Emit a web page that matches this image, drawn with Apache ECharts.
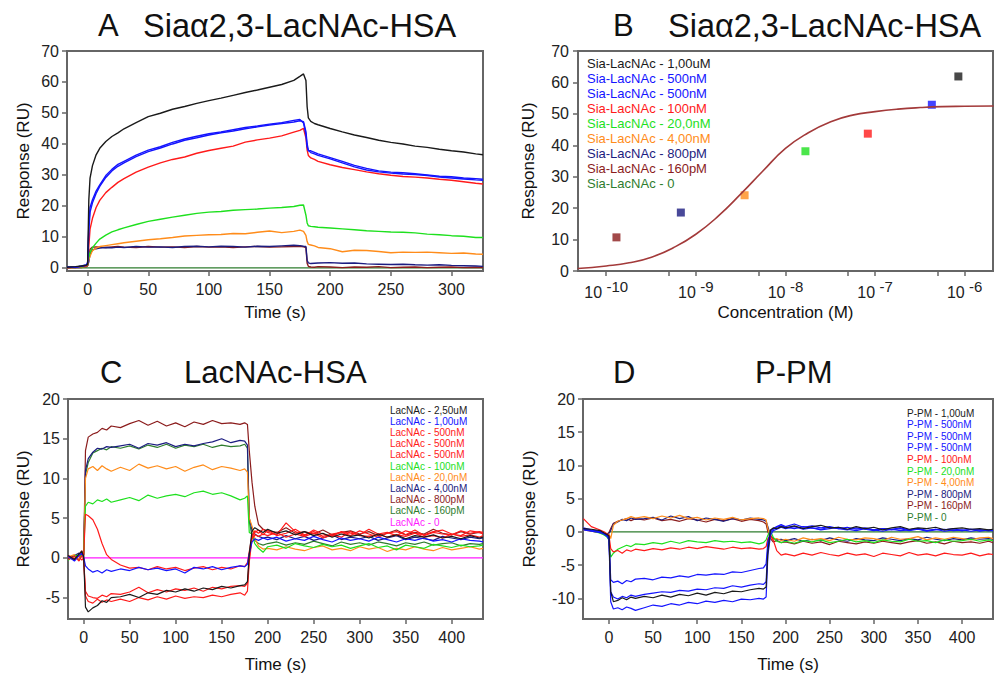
<!DOCTYPE html>
<html>
<head>
<meta charset="utf-8">
<script src="https://cdn.jsdelivr.net/npm/echarts@6/dist/echarts.min.js"></script>
<style>
html, body { margin: 0; padding: 0; background: #fff; }
#main { width: 998px; height: 674px; }
</style>
</head>
<body>
<div id="main"></div>
<script>
var chartDom = document.getElementById('main');
var myChart = echarts.init(chartDom, null, { renderer: 'svg' });

var FONT = '"Liberation Sans", Arial, sans-serif';

// colours used across panels
var cBlack = '#1a1a1a', cBlue = '#1414ff', cRed = '#ff1a1a', cGreen = '#1ee01e',
    cOrange = '#ff8c1a', cNavy = '#1c1c80', cDarkRed = '#8b1c1c', cDarkGreen = '#2e7d2e',
    cMagenta = '#ff1aff';

// ---------- panel A : Sia-LacNAc sensorgrams ----------
var tA = [-17,-10,-5,-1,0,1,2,4,7,10,15,20,25,30,40,50,60,70,80,90,100,110,120,130,140,150,160,170,175,178,180,181,182,184,187,190,200,210,220,230,240,250,260,270,280,290,300,310,320,326];
var blackA = [0.2,0.4,0.6,0.9,1.2,22,29,33,36.5,38.6,40.8,42.4,43.6,44.9,46.9,48.8,49.9,51.2,52.1,53.1,54.0,54.8,55.7,56.6,57.4,58.3,59.2,60.5,61.8,62.6,60.5,52,48.4,47.3,46.6,46.2,45.0,43.9,42.9,42.1,41.2,40.5,40.0,39.3,38.9,38.3,37.8,37.4,36.8,36.5];
var blueA1 = [0.1,0.3,0.5,0.8,1.5,12,18,21,24,26.3,29.2,31.3,32.8,33.9,35.9,37.5,38.7,40.0,41.2,42.0,42.9,43.6,44.2,44.9,45.5,46.1,46.6,47.1,47.5,47.2,44,40,38,37.2,36.8,36.3,35.2,33.9,32.6,31.6,31.0,30.6,30.3,30.1,29.8,29.3,29.0,28.7,28.4,28.3];
var blueA2 = [0.3,0.2,0.6,1.0,1.8,14,19.5,22,24.8,26.8,29.8,31.8,33.4,34.4,36.4,38.0,39.1,40.5,41.6,42.5,43.3,43.9,44.6,45.3,45.8,46.4,46.9,47.6,47.9,46.8,43,39,37.8,37.8,37.3,36.8,35.6,34.4,33.1,32.1,31.3,30.9,30.7,30.4,30.0,29.6,29.4,29.0,28.8,28.6];
var redA = [0,0.2,0.4,0.6,1,7,12.5,16,19.5,21.8,24.3,26.0,27.6,28.8,30.9,32.5,33.9,35.0,35.8,37.0,37.9,38.6,39.3,40.6,41.3,41.9,42.6,43.8,44.4,45.0,42,38,36.3,35.5,35.0,34.4,33.3,32.4,31.7,31.0,30.4,29.9,29.5,29.3,29.0,28.6,28.3,27.8,27.3,27.1];
var greenA = [0.1,0.2,0.3,0.6,1,3.5,5,6.5,8,9.3,10.6,11.6,12.3,12.9,14.0,15.0,15.7,16.4,17.0,17.6,18.0,18.2,18.6,18.8,19.0,19.3,19.5,19.8,20.2,20.3,17,14.5,13.6,13.4,13.3,13.1,12.9,12.6,12.3,12.0,11.8,11.6,11.5,11.3,10.9,10.7,10.4,10.2,9.8,9.8];
var orangeA = [0,0.1,0.3,0.5,0.8,2.5,3.8,5.6,6.4,6.9,7.2,7.5,7.8,8.1,8.6,9.1,9.4,9.8,10.3,10.5,10.7,10.8,11.1,11.0,11.5,11.9,11.4,11.8,12.2,11.8,10.5,8.5,7.6,7.4,7.1,6.6,6.2,5.2,5.7,5.6,5.3,4.9,5.1,5.0,5.1,4.9,4.7,4.8,4.5,4.4];
var navyA = [0.3,0.1,0.6,0.4,0.8,2,4.5,5.8,6.2,6.4,6.6,6.5,6.7,6.6,6.9,6.7,6.8,6.6,6.9,7.0,6.8,7.0,6.9,6.7,7.0,6.9,7.1,7.3,7.2,7.0,6.9,2.5,1.6,1.4,1.5,1.6,1.7,1.5,1.6,1.3,1.2,1.1,1.2,1.0,0.9,1.0,0.8,0.7,0.6,0.5];
var darkRedA = [0,0.2,0.1,0.5,0.7,3,6,6.7,6.8,6.7,6.6,6.8,6.9,6.7,6.6,6.9,6.7,6.8,6.6,6.9,6.7,6.8,6.6,6.8,6.9,6.7,6.8,6.9,7.0,6.8,6.6,1.5,0.5,0.3,0.2,0.4,0.3,0.1,0.3,0.2,0.4,0.1,0.2,0.3,0.1,0.2,0.3,0.1,0.2,0.1];
var tZeroA = [-17, 326];
var zeroA = [0, 0];
var namesA = ['Sia-LacNAc - 1,00uM','Sia-LacNAc - 500nM','Sia-LacNAc - 500nM','Sia-LacNAc - 100nM','Sia-LacNAc - 20,0nM','Sia-LacNAc - 4,00nM','Sia-LacNAc - 800pM','Sia-LacNAc - 160pM','Sia-LacNAc - 0'];
var colorsA = [cBlack, cBlue, cBlue, cRed, cGreen, cOrange, cNavy, cDarkRed, cDarkGreen];
var curvesA = [blackA, blueA1, blueA2, redA, greenA, orangeA, navyA, darkRedA];
var ticksA_x = [0, 50, 100, 150, 200, 250, 300];
var ticksA_y = [0, 10, 20, 30, 40, 50, 60, 70];

// ---------- panel B : dose response ----------
var concB = [1.3e-10, 6.8e-10, 3.5e-9, 1.67e-8, 8.3e-8, 4.3e-7, 8.5e-7];
var respB = [10.7, 18.6, 24.1, 38.1, 43.7, 52.9, 61.9];
var colorsB = [cDarkRed, cNavy, cOrange, cGreen, cRed, cBlue, cBlack];
var fitConc = [4.8e-11, 1e-10, 1.8e-10, 3.2e-10, 5.6e-10, 1e-9, 1.8e-9, 3.2e-9, 5.6e-9, 1e-8, 1.8e-8, 3.2e-8, 5.6e-8, 1e-7, 1.8e-7, 3.2e-7, 5.6e-7, 1e-6, 2.1e-6];
var fitResp = [0.8, 1.6, 2.6, 4.4, 7.4, 11.7, 17.6, 24.6, 31.8, 39.0, 44.0, 47.5, 49.6, 50.7, 51.5, 52.0, 52.3, 52.4, 52.5];
var labelsB_x = [1e-10, 1e-9, 1e-8, 1e-7, 1e-6];
var ticksB_x = [1e-10, 5e-10, 1e-9, 5e-9, 1e-8, 5e-8, 1e-7, 5e-7, 1e-6];
var ticksB_y = [0, 10, 20, 30, 40, 50, 60, 70];

// ---------- panel C : LacNAc-HSA ----------
var tC = [-17,-10,-5,-2,0,2,5,10,15,20,25,30,40,50,60,70,80,90,100,110,120,130,140,150,160,170,175,178,180,183,186,190,195,200,210,220,230,240,250,260,270,280,290,300,310,320,330,340,350,360,370,380,390,400,410,420,430,434];
var blackC = [0.3,-0.2,0.5,0.8,0.2, -6.2,-6.8,-6.3,-6.0,-5.4,-5.6,-5.0, -4.9,-4.6,-5.0,-4.4,-4.6,-4.1,-4.3,-3.9,-4.2,-3.8,-4.0,-3.6,-3.8,-3.5, -3.4,-3.0,0.5,3.4,3.8,3.5,3.2, 3.6,3.1,3.4,2.9,3.3,2.8,3.1,2.6,3.0,2.7,2.9,2.5,3.0,2.6,2.9,2.4,2.8,2.6,2.9,2.5,2.7,2.4,2.8,2.5, 2.6];
var blueC = [0.2,-0.4,0.3,0.6,0.1, -1.0,-1.4,-1.8,-1.6,-1.9,-1.5,-1.7, -1.4,-1.6,-1.2,-1.5,-1.3,-1.6,-1.4,-1.9,-1.2,-1.4,-1.1,-1.5,-1.2,-1.0, -1.1,-0.8,0.5,2.0,2.4,2.2,2.5, 2.3,2.6,2.1,2.4,2.2,2.7,2.3,2.0,2.5,2.2,2.4,2.1,2.6,2.3,2.0,2.4,2.2,2.5,2.1,2.3,2.0,2.4,2.2,2.1, 2.0];
var redC1 = [0.1,-0.3,0.4,0.7,0.3, 5.5,5.3,4.8,3.6,1.8,0.4,-0.2, -0.9,-1.3,-1.2,-1.5,-1.1,-1.4,-1.2,-1.6,-1.3,-1.1,-1.5,-1.2,-1.4,-1.0, -1.1,-0.6,0.8,2.8,3.4,3.1,3.6, 3.2,2.9,4.4,3.3,2.8,3.5,3.0,2.7,3.3,3.1,2.9,3.6,3.0,3.2,2.8,3.4,3.1,2.9,3.3,3.5,3.0,2.8,3.4,3.2, 3.0];
var redC2 = [-0.2,0.2,-0.4,0.3,-0.1, -4.2,-4.8,-5.0,-5.1,-4.7,-4.9,-4.5, -4.6,-4.3,-3.7,-4.4,-4.0,-4.3,-3.9,-4.1,-3.8,-4.2,-3.7,-3.9,-3.6,-3.5, -3.6,-3.2,0.0,2.6,3.2,3.5,2.9, 3.5,2.8,3.1,3.6,2.9,3.3,2.7,3.0,3.2,2.8,3.4,3.0,2.6,3.1,3.3,2.9,3.5,2.8,3.2,3.0,2.9,3.4,3.1,3.3, 3.2];
var redC3 = [0.3,-0.1,0.2,-0.3,0.0, -4.8,-5.5,-5.7,-5.2,-5.6,-5.3,-5.5, -5.2,-5.5,-5.0,-5.3,-4.9,-5.2,-4.8,-5.1,-4.9,-5.0,-4.7,-4.9,-4.6,-4.4, -4.7,-4.2,-0.5,2.4,2.9,2.7,3.0, 2.8,3.2,2.6,3.0,2.7,3.1,2.5,2.9,2.6,3.3,2.8,2.7,3.0,2.6,2.9,2.7,3.1,2.6,2.8,2.5,3.0,2.7,2.9,2.6, 2.8];
var greenC = [-0.3,0.2,0.4,0.1,0.5, 6.5,7.0,6.8,7.3,7.1,7.4,7.0, 7.3,7.6,7.2,7.9,7.5,7.8,8.0,7.7,8.2,8.4,8.0,8.2,7.8,7.3, 7.5,7.8,3.2,3.0,1.8,1.2,0.7, 1.4,1.6,1.2,1.8,1.5,1.3,1.7,1.4,1.6,1.2,1.5,1.8,1.3,1.5,1.0,1.6,1.4,1.2,1.7,1.5,1.3,1.6,1.4,1.5, 1.6];
var orangeC = [0.1,0.4,-0.2,0.3,0.2, 10.0,11.2,11.5,11.0,11.6,11.2,10.9, 11.4,11.0,11.8,11.3,11.6,11.2,11.5,10.9,11.4,11.7,11.1,11.5,11.3,11.0, 11.2,10.8,5.0,4.0,2.5,1.5,1.1, 1.2,1.0,1.4,1.1,0.9,1.3,1.5,1.0,1.2,0.9,1.4,1.1,1.3,0.8,1.2,1.0,1.4,1.1,0.9,1.3,1.0,1.2,1.4,1.1, 1.2];
var navyC = [-0.1,0.3,0.6,0.2,0.4, 11.0,12.5,13.3,13.8,13.7,14.0,13.9, 14.1,14.3,13.8,14.4,14.2,14.5,14.0,14.3,14.1,14.4,14.6,15.0,14.5,14.8, 14.7,14.2,5.0,3.5,3.0,2.7,2.5, 2.6,2.3,2.8,2.4,2.7,2.2,2.5,2.9,2.3,2.6,2.4,2.7,2.2,2.5,2.8,2.3,2.6,2.4,2.2,2.7,2.5,2.3,2.6,2.4, 2.5];
var darkRedC = [0.2,-0.2,0.4,0.9,0.3, 13.5,15.2,15.6,15.8,16.3,16.1,16.6, 16.4,16.9,17.3,16.7,17.2,16.6,17.0,16.5,17.1,16.8,17.3,16.9,17.0,16.8, 17.0,16.8,13.5,9.5,6.5,4.2,3.6, 3.4,3.2,3.8,3.1,3.3,3.0,3.5,2.9,3.2,3.4,3.0,3.3,2.8,3.1,3.5,2.9,3.2,3.0,3.6,3.1,2.9,3.3,3.0,3.2, 3.1];
var darkGreenC = [0.0,0.2,-0.3,0.4,0.1, 10.5,12.0,13.2,13.5,13.8,13.6,14.0, 13.8,14.1,13.7,14.2,13.9,14.3,13.8,14.2,14.0,14.3,13.9,14.2,14.0,14.1, 14.3,13.8,4.5,2.8,2.2,1.8,1.6, 1.8,2.0,1.6,1.9,1.7,2.1,1.8,1.5,2.0,1.7,1.9,1.6,2.0,1.8,1.5,1.9,1.7,2.0,1.6,1.8,1.9,1.5,1.8,1.7, 1.8];
var tZeroC = [0, 434];
var zeroC = [0, 0];
var namesC = ['LacNAc - 2,50uM','LacNAc - 1,00uM','LacNAc - 500nM','LacNAc - 500nM','LacNAc - 500nM','LacNAc - 100nM','LacNAc - 20,0nM','LacNAc - 4,00nM','LacNAc - 800pM','LacNAc - 160pM','LacNAc - 0'];
var colorsC = [cBlack, cBlue, cRed, cRed, cRed, cGreen, cOrange, cNavy, cDarkRed, cDarkGreen, cMagenta];
var curvesC = [blackC, blueC, redC1, redC2, redC3, greenC, orangeC, navyC, darkRedC, darkGreenC];
var ticksC_x = [0, 50, 100, 150, 200, 250, 300, 350, 400];
var ticksC_y = [-5, 0, 5, 10, 15, 20];

// ---------- panel D : P-PM ----------
var tD = [-29,-20,-10,-5,-2,0,2,5,10,15,20,25,30,40,50,60,70,80,90,100,110,120,130,140,150,160,170,175,178,180,183,186,190,195,200,210,220,230,240,250,260,270,280,290,300,310,320,330,340,350,360,370,380,390,400,410,420,430,435];
var blackD = [0.5,0.4,0.2,-0.2,-0.4,-0.6, -9.0,-10.5,-10.3,-9.9,-10.2,-9.8,-10.0, -9.7,-9.9,-9.5,-9.8,-9.4,-9.6,-9.2,-9.5,-9.1,-9.3,-8.9,-9.0,-8.7,-8.5, -8.6,-8.3,-3.0,0.3,0.6,0.5,0.8, 0.6,0.9,0.5,0.8,1.0,0.6,0.7,0.4,0.8,0.5,0.7,0.3,0.6,0.8,0.4,0.6,0.5,0.7,0.3,0.5,0.6,0.4,0.5,0.3, 0.4];
var blueD1 = [0.6,0.3,0.1,-0.3,-0.5,-0.8, -7.2,-7.6,-7.4,-7.8,-7.3,-7.5,-7.1, -7.0,-7.2,-6.8,-6.9,-6.6,-6.8,-6.4,-6.5,-6.3,-6.4,-6.0,-6.1,-5.8,-5.5, -5.4,-4.8,-1.5,0.2,0.5,0.8,1.1, 0.8,1.2,0.7,0.9,0.6,0.8,0.5,0.7,0.4,0.6,0.3,0.5,0.4,0.6,0.3,0.5,0.2,0.4,0.3,0.5,0.2,0.4,0.3,0.2, 0.3];
var blueD2 = [0.4,0.2,0.0,-0.4,-0.6,-0.9, -9.0,-9.8,-10.1,-9.7,-9.9,-9.5,-9.7, -9.4,-9.2,-9.0,-9.1,-8.8,-8.9,-8.6,-8.7,-8.4,-8.5,-8.1,-8.3,-8.0,-7.8, -7.9,-7.5,-2.0,0.0,0.4,0.7,0.9, 0.7,0.5,0.8,0.6,0.4,0.7,0.5,0.3,0.6,0.4,0.2,0.5,0.3,0.5,0.2,0.4,0.1,0.3,0.4,0.2,0.3,0.1,0.3,0.2, 0.2];
var blueD3 = [0.3,0.1,-0.1,-0.3,-0.7,-1.2, -10.5,-11.6,-11.4,-11.7,-11.3,-11.5,-11.8, -11.4,-11.0,-11.2,-10.8,-11.0,-10.6,-10.8,-10.4,-10.6,-10.3,-10.5,-10.1,-10.2,-10.0, -10.1,-9.8,-3.5,-0.5,0.2,0.4,0.7, 0.5,0.8,0.4,0.6,0.3,0.5,0.7,0.4,0.2,0.5,0.3,0.1,0.4,0.2,0.3,0.5,0.2,0.4,0.1,0.3,0.2,0.4,0.1,0.3, 0.2];
var redD = [2.0,0.8,0.3,0.0,-0.3,-0.5, -2.5,-3.0,-2.8,-3.2,-2.7,-2.9,-2.6, -2.8,-2.5,-2.7,-2.4,-2.6,-2.3,-2.5,-2.2,-2.4,-2.6,-2.3,-2.5,-2.4,-2.6, -2.5,-2.2,-1.0,-0.5,-1.2,-2.8,-3.5, -3.3,-3.6,-3.2,-3.5,-3.1,-3.4,-3.6,-3.2,-3.5,-3.3,-3.7,-3.2,-3.4,-3.6,-3.1,-3.5,-3.3,-3.6,-3.2,-3.4,-3.5,-3.2,-3.6,-3.3, -3.4];
var greenD = [0.4,0.2,-0.2,-0.5,-0.8,-1.2, -3.8,-3.2,-2.6,-2.3,-2.0,-2.2,-1.8, -1.9,-1.6,-1.8,-1.4,-1.7,-1.3,-1.5,-1.6,-1.3,-1.5,-1.4,-1.6,-1.5,-1.8, -1.6,-1.2,-0.5,0.2,-0.8,-1.4,-1.6, -1.4,-1.7,-1.3,-1.5,-1.2,-1.6,-1.4,-1.1,-1.5,-1.3,-1.6,-1.2,-1.4,-1.5,-1.1,-1.4,-1.3,-1.6,-1.2,-1.4,-1.3,-1.1,-1.4,-1.2, -1.3];
var orangeD = [0.3,0.1,-0.1,-0.3,-0.5,-0.3, -1.0,1.0,1.6,1.8,2.0,2.3,2.1, 2.3,2.0,2.4,2.1,2.5,2.0,2.2,1.8,2.1,1.9,2.2,1.8,2.0,2.1, 2.0,1.8,0.5,-0.8,-1.2,-1.0,-1.3, -1.1,-1.4,-0.9,-1.2,-1.0,-1.3,-0.8,-1.1,-1.2,-0.9,-1.0,-1.3,-0.8,-1.1,-1.0,-0.7,-1.2,-0.9,-1.1,-0.8,-1.0,-1.2,-0.9,-0.8, -1.0];
var navyD = [0.5,0.2,0.0,-0.2,-0.4,-0.2, 0.2,1.2,1.5,1.9,1.7,2.1,1.9, 2.0,2.2,1.8,2.4,2.0,2.3,1.7,2.1,1.9,1.6,2.0,1.8,2.1,1.9, 1.8,1.6,0.8,-0.5,-1.0,-1.2,-1.1, -1.3,-1.0,-1.4,-1.1,-1.3,-0.9,-1.2,-1.4,-1.0,-1.2,-1.3,-0.9,-1.1,-1.3,-1.0,-1.2,-0.8,-1.1,-1.3,-1.0,-1.2,-0.9,-1.1,-1.0, -1.1];
var darkRedD = [0.4,0.1,-0.1,-0.2,-0.3,-0.1, 0.5,1.3,1.6,1.8,2.0,1.7,2.0, 1.8,2.1,1.7,1.9,1.6,2.0,1.8,1.5,1.9,1.7,2.0,1.6,1.9,1.7, 1.5,1.2,0.0,-1.0,-1.5,-1.3,-1.6, -1.5,-1.8,-1.4,-1.7,-1.5,-1.9,-1.4,-1.6,-1.8,-1.5,-1.7,-1.4,-1.6,-1.8,-1.5,-1.3,-1.7,-1.5,-1.8,-1.4,-1.6,-1.5,-1.7,-1.4, -1.6];
var tZeroD = [0, 435];
var zeroD = [0, 0];
var namesD = ['P-PM - 1,00uM','P-PM - 500nM','P-PM - 500nM','P-PM - 500nM','P-PM - 100nM','P-PM - 20,0nM','P-PM - 4,00nM','P-PM - 800pM','P-PM - 160pM','P-PM - 0'];
var colorsD = [cBlack, cBlue, cBlue, cBlue, cRed, cGreen, cOrange, cNavy, cDarkRed, cDarkGreen];
var curvesD = [blackD, blueD1, blueD2, blueD3, redD, greenD, orangeD, navyD, darkRedD];
var ticksD_x = [0, 50, 100, 150, 200, 250, 300, 350, 400];
var ticksD_y = [-10, -5, 0, 5, 10, 15, 20];

// ---------- helpers ----------
function pairs(t, v) {
  return t.map(function (x, j) { return [x, v[j]]; });
}

function lineSeries(gi, name, color, t, v, width) {
  return {
    name: name, type: 'line', xAxisIndex: gi, yAxisIndex: gi,
    data: pairs(t, v), symbol: 'none', silent: true,
    lineStyle: { color: color, width: width },
    itemStyle: { color: color }
  };
}

function axisBase(gi, min, max, ticks, name, gap, margin) {
  return {
    gridIndex: gi, type: 'value', min: min, max: max,
    name: name, nameLocation: 'middle', nameGap: gap,
    nameTextStyle: { fontSize: 17, color: '#111', fontFamily: FONT },
    axisLine: { show: false, onZero: false },
    splitLine: { show: false },
    axisTick: { show: true, length: 5, customValues: ticks, lineStyle: { color: '#666', width: 1.5 } },
    axisLabel: { customValues: ticks, fontSize: 16, color: '#222', margin: margin, fontFamily: FONT }
  };
}

function legendTexts(names, colors, x, y0, step, size) {
  return names.map(function (n, i) {
    return {
      type: 'text', x: x, y: y0 + i * step, silent: true,
      style: { text: n, fill: colors[i], fontSize: size, fontFamily: FONT, verticalAlign: 'middle', textVerticalAlign: 'middle' }
    };
  });
}

function gridBox(left, top, width, height) {
  return { left: left, top: top, width: width, height: height, show: true,
    borderColor: '#666', borderWidth: 2, backgroundColor: 'transparent' };
}

var titleStyle = { fontSize: 31, fontWeight: 'normal', color: '#111', fontFamily: FONT };
var titleStyleSia = { fontSize: 32.5, fontWeight: 'normal', color: '#111', fontFamily: FONT };

// ---------- series ----------
var series = [];
series.push(lineSeries(0, namesA[8], colorsA[8], tZeroA, zeroA, 1.4));
for (var i = curvesA.length - 1; i >= 0; i--) {
  series.push(lineSeries(0, namesA[i], colorsA[i], tA, curvesA[i], 1.4));
}

series.push({
  name: 'fit', type: 'line', xAxisIndex: 1, yAxisIndex: 1, smooth: true, symbol: 'none', silent: true,
  data: fitConc.map(function (c, j) { return [Math.log10(c), fitResp[j]]; }),
  lineStyle: { color: '#a33a3a', width: 1.6 }
});
series.push({
  name: 'points', type: 'scatter', xAxisIndex: 1, yAxisIndex: 1, symbol: 'rect', symbolSize: 8, silent: true,
  data: concB.map(function (c, j) {
    return { value: [Math.log10(c), respB[j]], itemStyle: { color: colorsB[j] } };
  })
});

series.push(lineSeries(2, namesC[10], colorsC[10], tZeroC, zeroC, 1.3));
for (var k = curvesC.length - 1; k >= 0; k--) {
  series.push(lineSeries(2, namesC[k], colorsC[k], tC, curvesC[k], 1.2));
}

series.push(lineSeries(3, namesD[9], colorsD[9], tZeroD, zeroD, 1.3));
for (var m = curvesD.length - 1; m >= 0; m--) {
  series.push(lineSeries(3, namesD[m], colorsD[m], tD, curvesD[m], 1.2));
}

// ---------- axes ----------
var xB = axisBase(1, Math.log10(4.84e-11), Math.log10(2.07e-6), ticksB_x.map(Math.log10), 'Concentration (M)', 33, 8);
xB.axisLabel.customValues = labelsB_x.map(Math.log10);
xB.axisLabel.formatter = function (v) { return '{b|10} {e|' + Math.round(v) + '}'; };
xB.axisLabel.rich = {
  b: { fontSize: 16, lineHeight: 21, verticalAlign: 'bottom', color: '#222', fontFamily: FONT },
  e: { fontSize: 15, lineHeight: 15, verticalAlign: 'top', color: '#222', fontFamily: FONT }
};

var option = {
  animation: false,
  backgroundColor: '#fff',
  title: [
    { text: 'A', left: 98, top: 10, padding: 0, textStyle: titleStyle },
    { text: 'Siaα2,3-LacNAc-HSA', left: 143, top: 9, padding: 0, textStyle: titleStyleSia },
    { text: 'B', left: 613, top: 10, padding: 0, textStyle: titleStyle },
    { text: 'Siaα2,3-LacNAc-HSA', left: 668, top: 9, padding: 0, textStyle: titleStyleSia },
    { text: 'C', left: 100, top: 357, padding: 0, textStyle: titleStyle },
    { text: 'LacNAc-HSA', left: 184, top: 357, padding: 0, textStyle: titleStyle },
    { text: 'D', left: 613, top: 357, padding: 0, textStyle: titleStyle },
    { text: 'P-PM', left: 755, top: 357, padding: 0, textStyle: titleStyle }
  ],
  grid: [
    gridBox(67, 51, 416, 220),
    gridBox(578, 51, 415, 220),
    gridBox(68, 399, 415, 221),
    gridBox(583, 399, 410, 221)
  ],
  xAxis: [
    axisBase(0, -17, 326, ticksA_x, 'Time (s)', 33, 10),
    xB,
    axisBase(2, -17, 434, ticksC_x, 'Time (s)', 37, 10),
    axisBase(3, -29.4, 435, ticksD_x, 'Time (s)', 37, 10)
  ],
  yAxis: [
    axisBase(0, -1, 70, ticksA_y, 'Response (RU)', 35, 8),
    axisBase(1, 0, 70, ticksB_y, 'Response (RU)', 41, 9),
    axisBase(2, -7.7, 20, ticksC_y, 'Response (RU)', 36, 8),
    axisBase(3, -13.1, 20, ticksD_y, 'Response (RU)', 45, 8)
  ],
  graphic: [].concat(
    legendTexts(namesA, colorsA, 587, 63, 15.0, 13),
    legendTexts(namesC, colorsC, 390, 410, 11.2, 10),
    legendTexts(namesD, colorsD, 907, 413, 11.6, 10)
  ),
  series: series
};

myChart.setOption(option);
window.addEventListener('resize', function () { myChart.resize(); });
</script>
</body>
</html>
